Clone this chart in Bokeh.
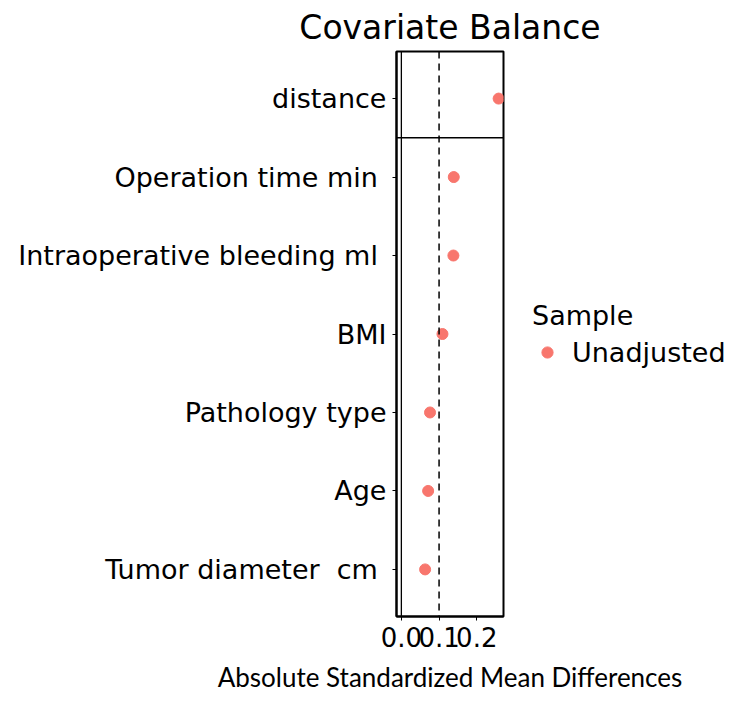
from bokeh.plotting import figure
from bokeh.models import (Range1d, FixedTicker, Span, Legend, LegendItem,
                          ColumnDataSource, NumeralTickFormatter)
from bokeh.embed import file_html
from bokeh.resources import INLINE

# Covariates, bottom to top, with their tick labels (non-breaking spaces keep the trailing padding)
covariates = ["Tumor diameter  cm", "Age", "Pathology type", "BMI",
              "Intraoperative bleeding ml", "Operation time min", "distance"]
tick_labels = ["Tumor diameter\u00a0\u00a0cm\u00a0", "Age", "Pathology type", "BMI",
               "Intraoperative bleeding ml\u00a0", "Operation time min\u00a0", "distance"]
# Absolute standardized mean differences, unadjusted sample
smd_unadjusted = [0.063, 0.071, 0.076, 0.109, 0.138, 0.139, 0.258]
x_ticks = [0.0, 0.1, 0.2]
threshold = 0.1
sample_name = "Unadjusted"

FONT = "DejaVu Sans"
POINT_COLOR = "#F8766D"

ypos = list(range(1, len(covariates) + 1))
src = ColumnDataSource(dict(y=ypos, smd=smd_unadjusted, cov=covariates))

xmax = max(smd_unadjusted)
pad = 0.05 * xmax

p = figure(frame_width=107, frame_height=565, output_backend="svg", toolbar_location=None,
           x_range=Range1d(-pad, xmax + pad),
           y_range=Range1d(0.4, len(covariates) + 0.6),
           min_border_left=396, min_border_right=235,
           min_border_top=50, min_border_bottom=98)

p.background_fill_color = "white"
p.border_fill_color = "white"
p.outline_line_color = "black"
p.outline_line_width = 2
p.xgrid.visible = False
p.ygrid.visible = False

p.title.text = "Covariate Balance"
p.title.align = "center"
p.title.text_font = FONT
p.title.text_font_size = "33px"
p.title.text_font_style = "normal"
p.title.text_color = "black"
p.title.standoff = 10

# reference lines: zero, threshold, separator above the distance row
p.add_layout(Span(location=0, dimension="height", line_color="black", line_width=1.3))
p.add_layout(Span(location=threshold, dimension="height", line_color="black",
                  line_width=1.5, line_dash="7 5"))
p.add_layout(Span(location=len(covariates) - 0.5, dimension="width",
                  line_color="black", line_width=1.5))

r = p.scatter(x="smd", y="y", source=src, size=11, color=POINT_COLOR, line_color=POINT_COLOR)

xa = p.xaxis[0]
xa.ticker = FixedTicker(ticks=x_ticks)
xa.formatter = NumeralTickFormatter(format="0.0")
xa.axis_label = "Absolute Standardized Mean Differences"
xa.axis_label_text_font = "Lato"
xa.axis_label_text_font_size = "26px"
xa.axis_label_text_font_style = "normal"
xa.axis_label_text_color = "black"
xa.axis_label_standoff = 11
xa.major_label_text_font = FONT
xa.major_label_text_font_size = "26px"
xa.major_label_text_color = "black"
xa.major_label_standoff = 6
xa.major_tick_out = 4
xa.major_tick_in = 0
xa.minor_tick_out = 0
xa.minor_tick_in = 0
xa.axis_line_color = "black"
xa.axis_line_width = 2
xa.major_tick_line_color = "black"

ya = p.yaxis[0]
ya.ticker = FixedTicker(ticks=ypos)
ya.major_label_overrides = {y: lab for y, lab in zip(ypos, tick_labels)}
ya.major_label_text_font = FONT
ya.major_label_text_font_size = "27px"
ya.major_label_text_color = "black"
ya.major_label_standoff = 6
ya.major_tick_out = 4
ya.major_tick_in = 0
ya.minor_tick_out = 0
ya.minor_tick_in = 0
ya.axis_line_color = "black"
ya.axis_line_width = 2
ya.major_tick_line_color = "black"

# legend to the right of the panel
legend = Legend(items=[LegendItem(label=sample_name, renderers=[r])],
                title="Sample", location="center_left", margin=29, padding=10,
                glyph_width=30, glyph_height=28, label_standoff=10,
                title_standoff=6, border_line_color=None,
                background_fill_color=None)
legend.title_text_font = FONT
legend.title_text_font_size = "27px"
legend.title_text_font_style = "normal"
legend.title_text_color = "black"
legend.label_text_font = FONT
legend.label_text_font_size = "27px"
legend.label_text_color = "black"
p.add_layout(legend, "right")

open("out.html", "w").write(file_html(p, INLINE))
